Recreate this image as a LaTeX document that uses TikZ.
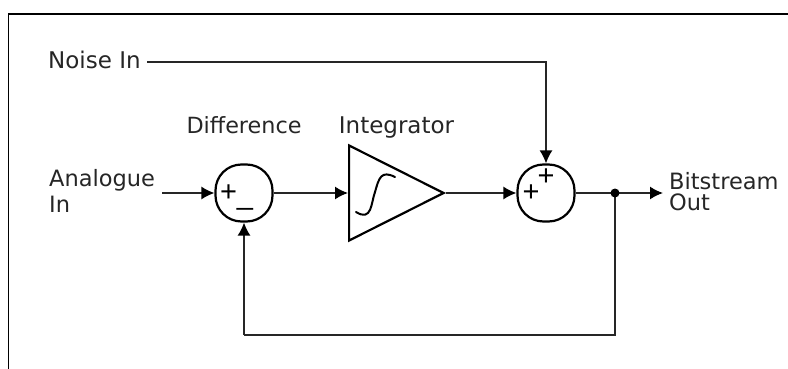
\documentclass[tikz,border=0pt]{standalone}
\usepackage{fontspec}
\setmainfont{DejaVu Sans}
\newfontfamily\signfont{Liberation Sans}
\usetikzlibrary{arrows.meta,shapes.geometric}
\begin{document}
\begin{tikzpicture}[x=1pt,y=-1pt,
  lbl/.style={inner sep=0pt,font=\fontsize{#1}{#1}\selectfont,text=black!85},
  lbl/.default=22,
  sumnode/.style={draw,line width=2.2pt,rectangle,rounded corners=26pt,minimum size=57pt,inner sep=0pt},
  amp/.style={draw,line width=2.2pt,isosceles triangle,isosceles triangle stretches,minimum width=95pt,minimum height=94.5pt,inner sep=0pt,anchor=lower side},
  conn/.style={line width=1.5pt,black!85},
  arr/.style={conn,-{Latex[length=13pt,width=13pt,black]}},
  sgn/.style={inner sep=0pt,font=\signfont\fontsize{29}{29}\selectfont}]
\useasboundingbox (0,0) rectangle (788,369);
\draw[line width=1.5pt] (8.5,369) -- (8.5,14) -- (788,14);
\node[sumnode] (s1) at (244,193) {};
\node[sumnode] (s2) at (546,193) {};
\node[amp] (tri) at (348,193) {};
\node[lbl=23,anchor=base west] (noise) at (48,69) {Noise In};
\node[lbl=22.3,anchor=base] (diff) at (244,133) {Difference};
\node[lbl=23,anchor=base] (integ) at (396.5,133) {Integrator};
\node[lbl=22.5,anchor=base west] (ana) at (49,186) {Analogue};
\node[lbl=22.5,anchor=base west] (anb) at (49,212) {In};
\node[lbl=22.5,anchor=base west] (bita) at (669,189) {Bitstream};
\node[lbl=22.5,anchor=base west] (bitb) at (669,210) {Out};
\node[sgn] (p1) at (228.5,193) {+};
\node[sgn] (m1) at (245,207) {\_};
\node[sgn] (p2) at (546,177) {+};
\node[sgn] (p3) at (531,193) {+};
\coordinate (ai) at (162,193);
\coordinate (nstart) at (147,62);
\coordinate (corner) at (546,62);
\coordinate (jn) at (615,193);
\coordinate (fb1) at (615,335);
\coordinate (fb2) at (244,335);
\coordinate (out) at (663,193);
\draw[arr] (ai) -- (s1.west);
\draw[arr] (s1.east) -- (tri.lower side);
\draw[arr] (tri.apex) -- (s2.west);
\draw[arr] (nstart) -- (corner) -- (s2.north);
\draw[arr] (s2.east) -- (out);
\draw[conn] (jn) -- (fb1) -- (fb2);
\draw[arr] (fb2) -- (s1.south);
\fill (jn) circle (4.5pt);
\draw[line width=2pt,line cap=round] (356,212) .. controls (372,222) and (371,203) .. (375,192) .. controls (379,178) and (381,170) .. (395,177);
\end{tikzpicture}
\end{document}
